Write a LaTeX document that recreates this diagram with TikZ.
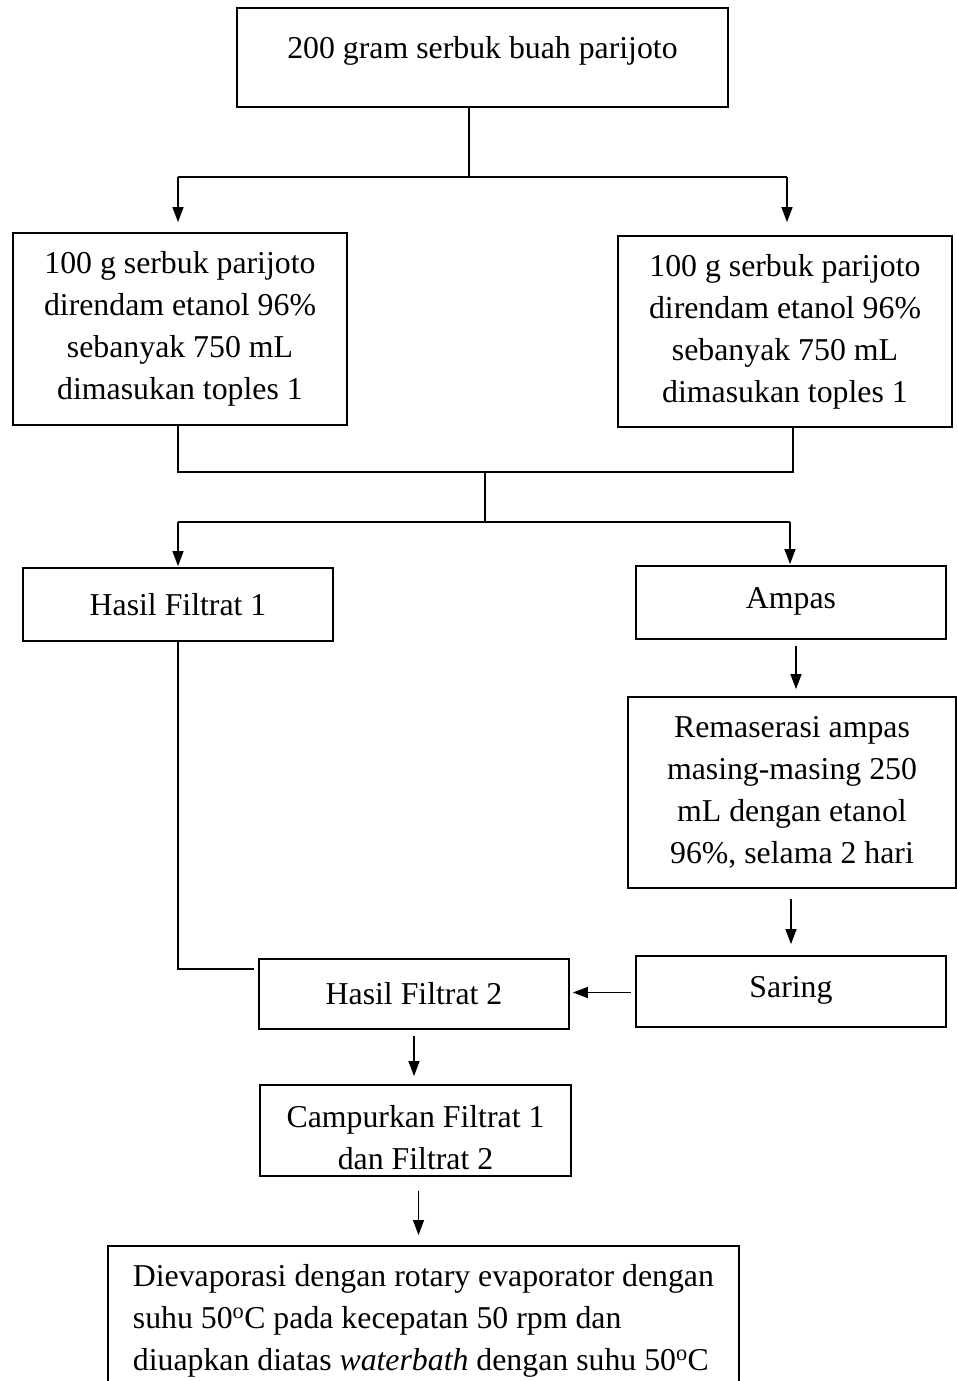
\documentclass[tikz,border=0pt]{standalone}
\usepackage{fontspec}
\setmainfont{Liberation Serif}
\usetikzlibrary{arrows.meta,positioning,calc}
\tikzset{
	box/.style={draw,line width=1.8pt,inner sep=0pt,minimum width=310pt,minimum height=72pt},
	lay/.style={box,align=center},
	ln/.style={line width=1.8pt},
	arr/.style={-{Triangle[length=15pt,width=11pt]},line width=1.3pt}
}
\begin{document}
\begin{tikzpicture}[x=1pt,y=-1pt,font=\fontsize{31.8}{42}\selectfont]
		\useasboundingbox[fill=white] (0,0) rectangle (956,1381);
		\node[box,minimum width=491pt,minimum height=99pt,text depth=21pt] (top) at (482.5,57.5) {200 gram serbuk buah parijoto};
		\node[lay,minimum width=334pt,minimum height=192pt] (mac1) at (180,329) {100 g serbuk parijoto\\direndam etanol 96\%\\sebanyak 750 mL\\dimasukan toples 1};
		\node[lay,minimum width=334pt,minimum height=191pt] (mac2) at (785,331.5) {100 g serbuk parijoto\\direndam etanol 96\%\\sebanyak 750 mL\\dimasukan toples 1};
		\node[box,minimum height=73pt] (fil1) at (178,604.5) {Hasil Filtrat 1};
		\node[box,minimum height=73pt,text depth=10pt] (ampas) at (791,602.5) {Ampas};
		\node[lay,minimum width=328pt,minimum height=191pt] (remas) at (792,792.5) {Remaserasi ampas\\masing-masing 250\\mL dengan etanol\\96\%, selama 2 hari};
		\node[box,minimum height=71pt,text depth=10pt] (saring) at (791,991.5) {Saring};
		\node[box,minimum height=70pt] (fil2) at (414,994) {Hasil Filtrat 2};
		\node[lay,minimum width=311pt,minimum height=91pt] (mix) at (415.5,1130.5) {\rule{0pt}{36pt}Campurkan Filtrat 1\\dan Filtrat 2};
		\node[box,anchor=north west,align=left,inner ysep=10pt,minimum width=631pt,minimum height=149pt] (evap) at (107,1245) {Dievaporasi dengan rotary evaporator dengan\\suhu 50\textsuperscript{o}C pada kecepatan 50 rpm dan\\diuapkan diatas \textit{waterbath} dengan suhu 50\textsuperscript{o}C};
		\coordinate (j1) at (469,177); \coordinate (j1l) at (178,177); \coordinate (j1r) at (787,177);
		\coordinate (j2) at (485,472); \coordinate (j2l) at (178,472); \coordinate (j2r) at (793,472);
		\coordinate (j3) at (485,522); \coordinate (j3l) at (178,522); \coordinate (j3r) at (790,522);
		\coordinate (j4) at (254,969);
		\draw[ln] (j1 |- top.south) -- (j1); \draw[ln] (j1l) -- (j1r);
		\draw[arr,shorten >=10pt] (j1l) -- (j1l |- mac1.north);
		\draw[arr,shorten >=13pt] (j1r) -- (j1r |- mac2.north);
		\draw[ln] (j2l |- mac1.south) -- (j2l) -- (j2r) -- (j2r |- mac2.south);
		\draw[ln] (j2) -- (j3); \draw[ln] (j3l) -- (j3r);
		\draw[arr,shorten >=1pt] (j3l) -- (j3l |- fil1.north);
		\draw[arr,shorten >=1pt] (j3r) -- (j3r |- ampas.north);
		\draw[arr,shorten <=6pt,shorten >=7pt] ([xshift=5pt]ampas.south) -- ([xshift=5pt]ampas.south |- remas.north);
		\draw[arr,shorten <=10pt,shorten >=11pt] (remas.south -| saring.south) -- (saring.north);
		\draw[arr,shorten <=4pt,shorten >=3pt] ([yshift=-1pt]saring.west) -- ([yshift=-1pt]saring.west -| fil2.east);
		\draw[ln] (fil1.south) |- (j4);
		\draw[arr,shorten <=6pt,shorten >=8pt] (fil2.south) -- (fil2.south |- mix.north);
		\draw[arr,shorten <=14pt,shorten >=10pt] ([xshift=3pt]mix.south) -- ([xshift=3pt]mix.south |- evap.north);
	\end{tikzpicture}
\end{document}
